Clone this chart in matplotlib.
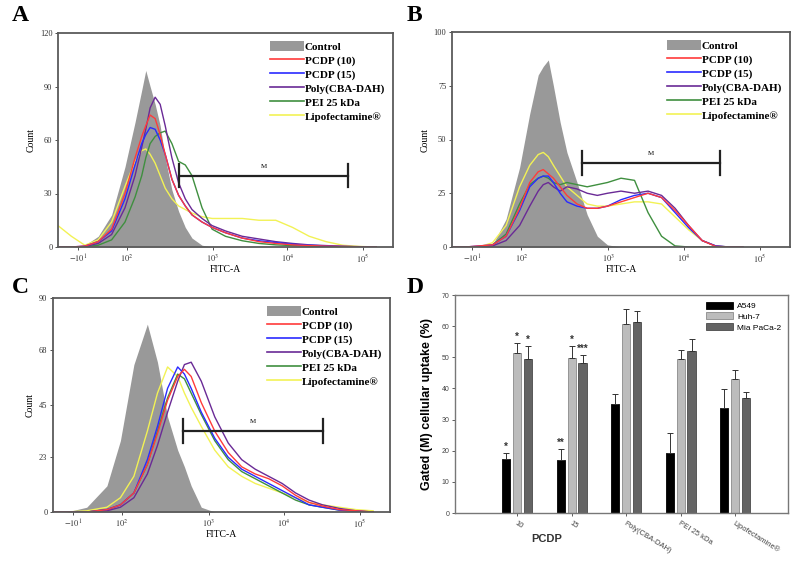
import matplotlib.pyplot as plt
from matplotlib.patches import Patch
from matplotlib.lines import Line2D

# ---- flow cytometry histograms (x = position along FITC-A axis, 0-1000) ----
labels = ["Control", "PCDP (10)", "PCDP (15)", "Poly(CBA-DAH)", "PEI 25 kDa", "Lipofectamine®"]
line_colors = ["#ff3b3b", "#2a2aff", "#6a2a96", "#3f8f3f", "#f2f255"]

a_x = [0, 40, 80, 120, 160, 200, 230, 250, 262, 275, 290, 305, 320, 340, 360,
       380, 400, 430, 460, 500, 550, 600, 650, 700, 750, 800, 850, 900, 950]
a_control = [0, 0, 1, 6, 18, 45, 70, 88, 99, 90, 80, 68, 50, 32, 20,
             11, 5, 1, 0, 0, 0, 0, 0, 0, 0, 0, 0, 0, 0]
a_pcdp10 = [0, 0, 0.5, 3, 10, 30, 50, 62, 68, 74, 72, 63, 52, 38, 29,
            23, 18, 14, 11, 8, 5, 3, 2, 1.2, 0.8, 0.5, 0.3, 0.1, 0]
a_pcdp15 = [0, 0, 0.5, 3, 9, 27, 46, 58, 63, 67, 66, 60, 52, 38, 29,
            23, 18, 14, 11, 8, 5, 3.5, 2.5, 1.5, 1, 0.6, 0.3, 0.1, 0]
a_poly = [0, 0, 0.3, 2, 7, 22, 40, 56, 66, 78, 84, 80, 68, 50, 36,
          27, 21, 16, 12, 9, 6, 4.5, 3, 2, 1.2, 0.8, 0.4, 0.2, 0]
a_pei = [0, 0, 0.2, 1, 4, 14, 28, 40, 50, 58, 62, 64, 65, 58, 48,
         46, 40, 22, 10, 6, 3.5, 2, 1.2, 0.8, 0.5, 0.3, 0.2, 0.1, 0]
a_lipo = [12, 6, 1, 4, 14, 34, 48, 54, 55, 52, 47, 40, 33, 27, 23,
          21, 19, 17, 16, 16, 16, 15, 15, 11, 6, 3, 1, 0.3, 0]

b_x = [0, 40, 80, 120, 160, 200, 230, 255, 270, 285, 300, 320, 340, 370,
       400, 430, 460, 500, 540, 580, 620, 660, 700, 740, 780, 820, 860]
b_control = [0, 0, 0, 1, 13, 37, 62, 80, 84, 87, 75, 58, 44, 30,
             15, 5, 1, 0, 0, 0, 0, 0, 0, 0, 0, 0, 0]
b_pcdp10 = [0, 0, 0.5, 1, 5, 18, 30, 35, 36, 34, 32, 28, 24, 20,
            18, 18, 19, 21, 23, 25, 23, 17, 10, 3, 0.3, 0, 0]
b_pcdp15 = [0, 0, 0.5, 1, 5, 17, 28, 32, 33, 33, 30, 25, 21, 19,
            18, 18, 19, 22, 24, 25, 23, 16, 9, 3, 0.5, 0, 0]
b_poly = [0, 0, 0, 0.5, 3, 10, 19, 26, 29, 30, 28, 26, 28, 27,
          25, 24, 25, 26, 25, 26, 24, 18, 10, 3, 0.5, 0, 0]
b_pei = [0, 0, 0, 1, 6, 20, 29, 32, 33, 32, 30, 29, 30, 29,
         28, 29, 30, 32, 31, 16, 5, 0.5, 0, 0, 0, 0, 0]
b_lipo = [0, 0, 0, 2, 10, 28, 38, 43, 44, 42, 38, 33, 28, 24,
          20, 19, 19, 20, 21, 21, 20, 14, 8, 3, 0.5, 0, 0]

c_x = [0, 40, 100, 160, 200, 240, 280, 310, 340, 370, 390, 410, 440,
       480, 520, 560, 600, 640, 680, 720, 760, 800, 850, 900, 950]
c_control = [0, 0, 2, 11, 30, 62, 79, 63, 40, 26, 19, 11, 2,
             0, 0, 0, 0, 0, 0, 0, 0, 0, 0, 0, 0]
c_pcdp10 = [0, 0, 0, 1, 3, 8, 20, 33, 47, 57, 60, 57, 46,
            34, 25, 19, 16, 14, 11, 7, 4, 2.5, 1, 0.5, 0]
c_pcdp15 = [0, 0, 0, 1, 3, 8, 22, 36, 52, 61, 58, 52, 42,
            31, 23, 18, 15, 12, 9, 6, 3, 2, 0.8, 0.3, 0]
c_poly = [0, 0, 0, 0.5, 2, 6, 16, 28, 42, 55, 62, 63, 55,
          40, 29, 22, 18, 15, 12, 8, 5, 3, 1.5, 0.5, 0]
c_pei = [0, 0, 0, 1, 3, 8, 20, 34, 48, 58, 56, 50, 41,
         30, 22, 17, 14, 11, 8, 5, 3, 2, 0.8, 0.3, 0]
c_lipo = [0, 0, 0.5, 2, 6, 15, 34, 50, 61, 57, 50, 44, 36,
          26, 19, 15, 12, 10, 8, 6, 4, 3, 2, 1, 0.5]

hist_ticks = [60, 205, 462, 685, 910]
hist_ticklabels = [r"$-10^{1}$", r"$10^{2}$", r"$10^{3}$", r"$10^{4}$", r"$10^{5}$"]
a_yticks = [0, 30, 60, 90, 120]
b_yticks = [0, 25, 50, 75, 100]
c_yticks = [0, 23, 45, 68, 90]
# gate M: start, end, level
a_gate = (361, 866, 40)
b_gate = (385, 793, 39)
c_gate = (386, 801, 34)

# ---- panel D: gated (M) cellular uptake ----
groups = ["10", "15", "Poly(CBA-DAH)", "PEI 25 kDa", "Lipofectamine®"]
cells = ["A549", "Huh-7", "Mia PaCa-2"]
a549 = [17.2, 17.0, 34.9, 19.3, 33.8]
a549_err = [2.1, 3.4, 3.4, 6.3, 5.9]
huh7 = [51.5, 49.9, 60.7, 49.4, 42.9]
huh7_err = [3.2, 3.6, 4.8, 2.9, 2.9]
mia = [49.4, 48.3, 61.2, 52.1, 37.0]
mia_err = [4.1, 2.5, 3.8, 3.9, 1.9]
a549_sig = ["*", "**", "", "", ""]
huh7_sig = ["*", "*", "", "", ""]
mia_sig = ["*", "***", "", "", ""]

plt.rcParams["font.family"] = ["Liberation Serif", "DejaVu Serif"]
plt.rcParams["mathtext.fontset"] = "stix"

fig = plt.figure(figsize=(8, 5.61), dpi=100)
W, H = 800, 561


def px_axes(left, top, right, bottom):
    return fig.add_axes([left / W, (H - bottom) / H, (right - left) / W, (bottom - top) / H])


def histogram_panel(ax, x, control, curves, yticks, gate):
    ax.fill_between(x, control, color="#999999", lw=0)
    for y, col in zip(curves[::-1], line_colors[::-1]):
        ax.plot(x, y, color=col, lw=1.0)
    ax.set_xlim(0, 1000)
    ax.set_ylim(0, yticks[-1])
    ax.set_yticks(yticks)
    ax.set_xticks(hist_ticks)
    ax.set_xticklabels(hist_ticklabels)
    ax.tick_params(labelsize=6, length=2, width=0.6, pad=2, colors="#333333")
    for s in ax.spines.values():
        s.set_color("#5a5a5a")
        s.set_linewidth(1.3)
    ax.set_ylabel("Count", fontsize=7, labelpad=3)
    ax.set_xlabel("FITC-A", fontsize=7, labelpad=0)
    x0, x1, lev = gate
    cap = yticks[-1] * 0.055
    ax.plot([x0, x1], [lev, lev], color="#222222", lw=1.6)
    ax.plot([x0, x0], [lev - cap, lev + cap], color="#222222", lw=1.6)
    ax.plot([x1, x1], [lev - cap, lev + cap], color="#222222", lw=1.6)
    ax.text((x0 + x1) / 2, lev + cap * 0.6, "M", fontsize=5, ha="center", va="bottom")
    handles = [Patch(facecolor="#999999", edgecolor="none")]
    handles += [Line2D([], [], color=c, lw=1.2) for c in line_colors]
    ax.legend(handles, labels, loc="upper right", frameon=False,
              prop={"family": "Liberation Serif", "weight": "bold", "size": 8},
              handlelength=3.0, handleheight=1.0, handletextpad=0.1,
              labelspacing=0.28, borderaxespad=0.5, borderpad=0.2)


ax_a = px_axes(58, 33, 393, 247)
histogram_panel(ax_a, a_x, a_control, [a_pcdp10, a_pcdp15, a_poly, a_pei, a_lipo], a_yticks, a_gate)
ax_b = px_axes(452, 32, 790, 247)
histogram_panel(ax_b, b_x, b_control, [b_pcdp10, b_pcdp15, b_poly, b_pei, b_lipo], b_yticks, b_gate)
ax_c = px_axes(53, 298, 390, 512)
histogram_panel(ax_c, c_x, c_control, [c_pcdp10, c_pcdp15, c_poly, c_pei, c_lipo], c_yticks, c_gate)

# ---- panel D ----
ax_d = px_axes(455, 295, 788, 513)
sans = "Liberation Sans"
pos = list(range(len(groups)))
bw = 0.15
series = [(a549, a549_err, a549_sig, "#000000", "#000000"),
          (huh7, huh7_err, huh7_sig, "#bcbcbc", "#8a8a8a"),
          (mia, mia_err, mia_sig, "#646464", "#4a4a4a")]
for k, (vals, errs, sig, fc, ec) in enumerate(series):
    xs = [p + (k - 1) * 0.2 for p in pos]
    ax_d.bar(xs, vals, width=bw, color=fc, edgecolor=ec, lw=0.6, label=cells[k])
    ax_d.errorbar(xs, vals, yerr=[[0] * len(vals), errs], fmt="none",
                  ecolor="#333333", elinewidth=0.7, capsize=2, capthick=0.7)
    for xi, v, e, s in zip(xs, vals, errs, sig):
        if s:
            ax_d.text(xi, v + e + 0.4, s, ha="center", va="bottom", fontsize=7,
                      family=sans, fontweight="bold", color="#333333")
ax_d.set_xlim(-1.14, 4.97)
ax_d.set_ylim(0, 70)
ax_d.set_yticks(range(0, 71, 10))
ax_d.set_xticks(pos)
ax_d.set_xticklabels(groups, rotation=-32, ha="left", rotation_mode="anchor",
                     family=sans, fontsize=5.5)
for lbl in ax_d.get_yticklabels():
    lbl.set_family(sans)
ax_d.tick_params(axis="y", labelsize=5, length=2, width=0.6, pad=2, colors="#444444")
ax_d.tick_params(axis="x", length=2, width=0.6, pad=3, colors="#444444")
for s in ax_d.spines.values():
    s.set_color("#777777")
    s.set_linewidth(1.0)
ax_d.set_ylabel("Gated (M) cellular uptake (%)", family=sans, fontweight="bold",
                fontsize=9, labelpad=6)
ax_d.text(0.55, -8.5, "PCDP", family=sans, fontweight="bold", fontsize=8,
          ha="center", va="center", color="#333333")
ax_d.legend(loc="upper right", frameon=False, prop={"family": sans, "size": 6},
            handlelength=3.2, handleheight=0.9, handletextpad=0.5,
            labelspacing=0.3, borderaxespad=0.4)

# panel letters
for letter, (px, py) in zip("ABCD", [(12, 5), (407, 5), (12, 277), (407, 277)]):
    fig.text(px / W, 1 - py / H, letter, fontsize=17, fontweight="bold",
             family="Liberation Serif", ha="left", va="top")

fig.savefig("out.png", dpi=100)
